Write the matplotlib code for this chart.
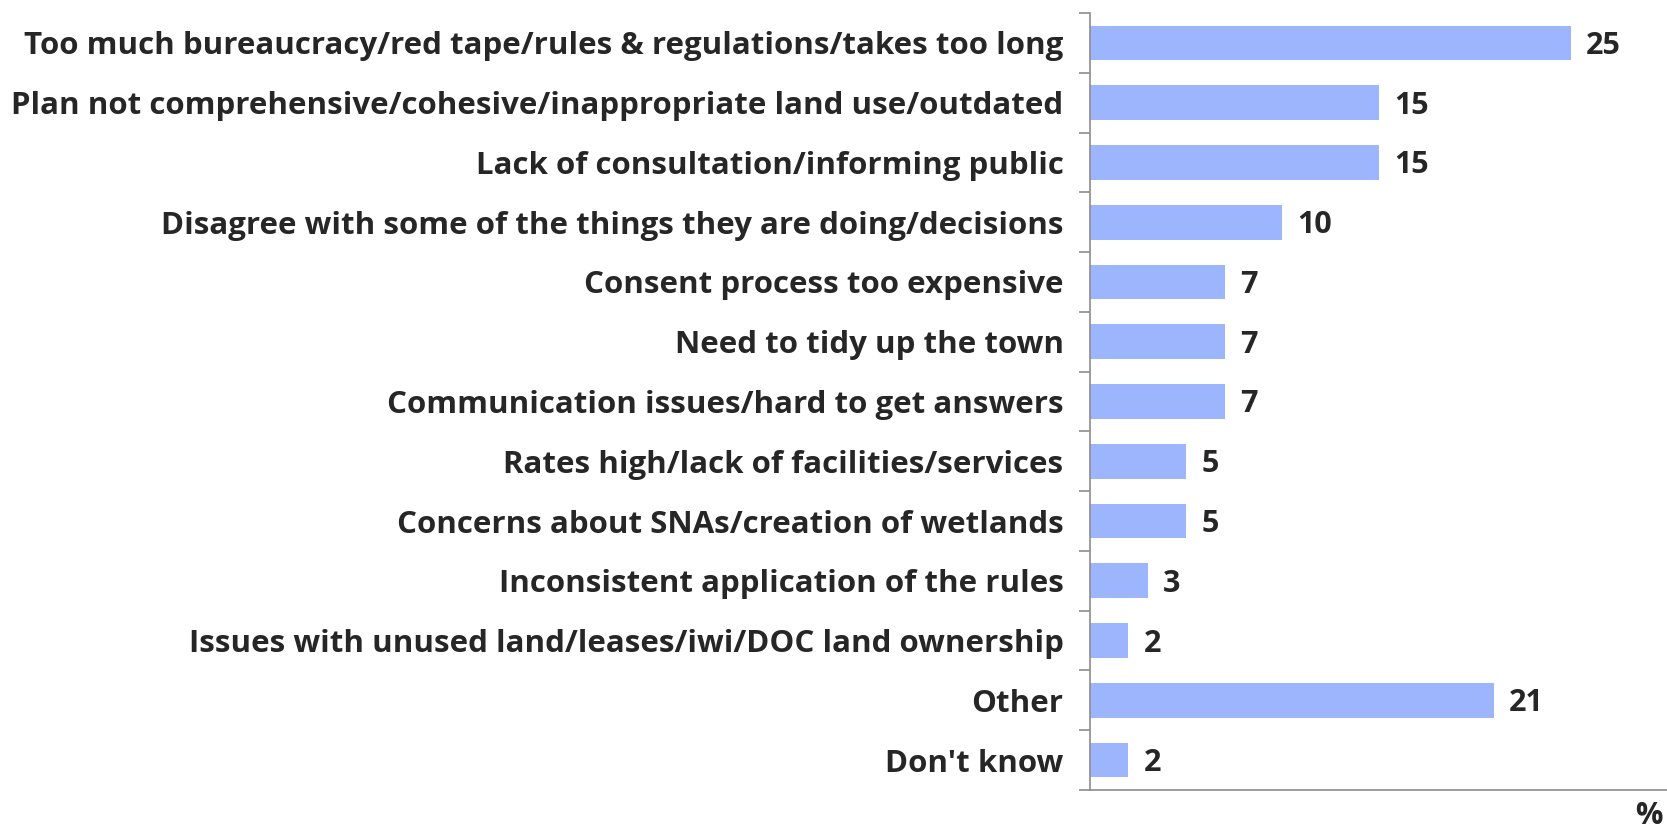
import numpy as np
import matplotlib.pyplot as plt

# === Data ===
categories = [
    "Too much bureaucracy/red tape/rules & regulations/takes too long",
    "Plan not comprehensive/cohesive/inappropriate land use/outdated",
    "Lack of consultation/informing public",
    "Disagree with some of the things they are doing/decisions",
    "Consent process too expensive",
    "Need to tidy up the town",
    "Communication issues/hard to get answers",
    "Rates high/lack of facilities/services",
    "Concerns about SNAs/creation of wetlands",
    "Inconsistent application of the rules",
    "Issues with unused land/leases/iwi/DOC land ownership",
    "Other",
    "Don't know",
]
values = [25, 15, 15, 10, 7, 7, 7, 5, 5, 3, 2, 21, 2]

# === Figure ===
plt.rcParams['font.family'] = ['Open Sans', 'DejaVu Sans']
fig = plt.figure(figsize=(16.67, 8.31), dpi=100)
ax = fig.add_axes([1090 / 1667, 1 - 790 / 831, (1667 - 1090) / 1667, 777 / 831])

y = np.arange(len(categories))
ax.barh(y, values, height=0.58, color="#9db5fd", edgecolor="none")
ax.set_ylim(len(categories) - 0.5, -0.5)
ax.set_xlim(0, 30)

for yi, v in zip(y, values):
    ax.text(v + 0.8, yi + 0.05, str(v), va="center", ha="left",
            fontsize=22, fontweight="bold", color="#262626")

# labels on bar centres, small ticks on bar boundaries
ax.set_yticks(y)
ax.set_yticklabels(categories, fontsize=22.5, fontweight="bold", color="#262626")
ax.tick_params(axis="y", length=0, pad=19)
ax.set_yticks(np.arange(len(categories) + 1) - 0.5, minor=True)
ax.tick_params(axis="y", which="minor", length=8, width=1.2, color="#8c8c8c", direction="out")
ax.set_xticks([])

for side in ["top", "right"]:
    ax.spines[side].set_visible(False)
for side in ["left", "bottom"]:
    ax.spines[side].set_color("#8c8c8c")
    ax.spines[side].set_linewidth(1.2)

fig.text(1649 / 1667, 1 - 816 / 831, "%", ha="center", va="center",
         fontsize=22, fontweight="bold", color="#262626")

fig.savefig("out.png", dpi=100)
